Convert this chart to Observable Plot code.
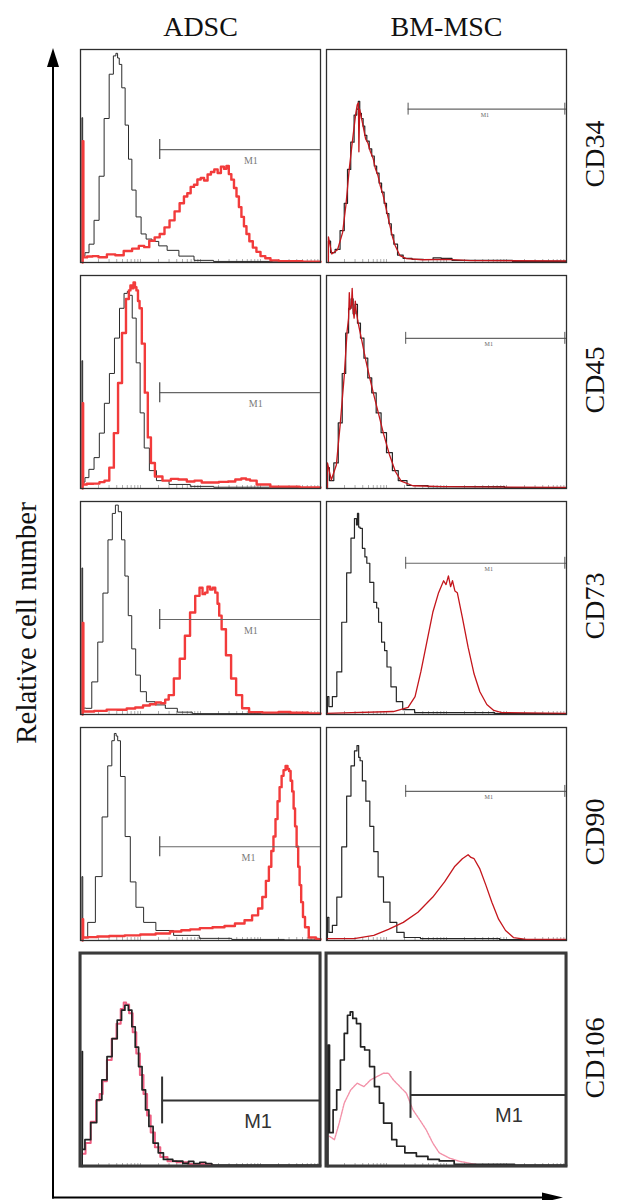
<!DOCTYPE html>
<html>
<head>
<meta charset="utf-8">
<script src="https://cdn.jsdelivr.net/npm/d3@7"></script>
<script src="https://cdn.jsdelivr.net/npm/@observablehq/plot@0.6"></script>
<style>
  html, body { margin: 0; padding: 0; background: #fff; }
  #chart svg { display: block; }
</style>
</head>
<body>
<div id="chart"></div>
<script>
// ---------- categories ----------
const columns = ["ADSC", "BM-MSC"];
const markers = ["CD34", "CD45", "CD73", "CD90", "CD106"];
const yAxisLabel = "Relative cell number";
const gateLabel = "M1";

// ---------- histogram series: [channel position 0-100, relative count 0-100] ----------
const adscCD34Control = [[0.6,0],[0.6,68],[1.2,3],[2.5,4.6],[4.6,8.6],[6.7,19.8],[8.8,40.5],[10.9,67.6],[13,88.4],[14.4,97],[15.1,98.2],[15.8,96],[16.5,93],[17.9,82],[19.3,64.5],[20.7,48.5],[22.1,34],[24.2,21.4],[26.3,13.4],[28.4,11],[31.2,9.9],[34,7.8],[38.2,5.7],[43.8,3],[50.8,1],[60,0.5],[100,0.3]];
const adscCD34Stained = [[0.9,0],[0.9,57],[1.5,2.4],[4,2.8],[6,3],[9,2.5],[13,3.8],[16,3.4],[20,5.4],[23,6.5],[25.6,7.8],[27.5,7.2],[29.8,10.2],[32,11.8],[34,13.4],[36,16.5],[38.2,19.8],[40.2,24],[42.4,27.8],[43.8,31],[45.2,32.5],[46.6,35.5],[48,36.5],[49.4,39],[50.8,39.7],[52.2,38.5],[53.7,41.3],[55,42.5],[56.5,43.7],[57.8,42],[59.2,45],[60.3,44],[61.3,45.3],[62.3,41.5],[63.4,38.9],[64.5,35],[65.5,31],[66.5,26],[67.6,21.4],[68.6,17],[69.7,13.4],[71,10],[72.6,7],[74,5],[76,3],[78,2],[80.3,1],[85,0.6],[100,0.4]];

const adscCD45Control = [[0.6,0],[0.6,60],[1.2,3],[2.5,5.1],[4.5,9],[6.8,14.5],[8.9,26],[11,40],[13.1,54],[15.2,70.6],[17.3,84.6],[19,91.6],[20,92.5],[20.7,90.7],[22.4,80],[24,59],[25.7,35.5],[27.4,19],[30,8.4],[33.3,3.7],[40.5,1.9],[51,1],[60,0.6],[100,0.4]];
const adscCD45Stained = [[0.9,0],[0.9,40],[1.3,1.9],[4,2.2],[6.8,2.3],[9,3],[11,3.7],[13,9.8],[14.8,26],[16.5,49.5],[18.1,73],[19.8,89],[20.5,93],[21.1,95.3],[21.8,94],[22.4,96.7],[23,94.5],[23.6,93],[24.3,88],[24.9,84.6],[26.2,68],[27.4,45],[28.7,24],[30,12],[32,5.6],[36.3,3.7],[39,4.5],[42.6,4.2],[46,3.3],[49,3.7],[52,2.8],[55.3,2.8],[60,3.1],[63,3.3],[66,4.2],[68,4.7],[70,4.2],[71.3,3.7],[75.5,1.9],[82.7,0.9],[100,0.5]];

const adscCD73Control = [[0.6,0],[0.6,68.8],[1.2,3],[3.3,2.9],[6.1,15.3],[8.3,34],[10.4,57],[12.5,82],[14,94.4],[15.1,98.3],[16.4,95.2],[17.8,82],[19.2,65],[20.6,46.4],[22.1,30.8],[23.9,18.5],[26,10.7],[28.9,6],[33.2,4.5],[37.5,2.9],[43.2,1.1],[50,0.4],[100,0.3]];
const adscCD73Stained = [[0.9,0],[0.9,43],[1.5,1.4],[2.6,1.4],[8.8,1.7],[13,2.3],[17.5,2.2],[21,2.8],[24.6,3.3],[27.5,4.2],[30.3,4.8],[32.5,5.6],[34.6,5.3],[36,7],[37.5,9.1],[40.3,16.9],[42.4,26.2],[44.6,37],[46.7,47.9],[48.9,55.7],[50.3,59.5],[51.4,56.5],[52.4,57.2],[53.4,60],[54.6,58.7],[55.6,59.5],[56.7,57.2],[57.5,52],[58.1,46.4],[59.5,40],[61.7,27.8],[63.8,16.9],[65.9,9.1],[68.8,2.9],[71.7,1.1],[80,0.9],[85,1.2],[90,0.8],[100,0.5]];

const adscCD90Control = [[0.6,0],[0.6,30],[1.3,1.4],[4.7,8.5],[7.7,30],[10.3,58],[12.4,82],[13.7,93.8],[14.5,97.2],[15.2,96],[15.8,93.8],[17.5,77],[19.7,48.8],[21.8,27.5],[24.4,15.6],[28.2,8.5],[34.6,4.7],[43,2.4],[56,1],[70,0.5],[100,0.3]];
const adscCD90Stained = [[0.9,0],[0.9,10],[1.3,1.4],[5,1.6],[9,1.9],[15,2.1],[21.8,2.4],[28,2.8],[34.6,3.3],[40,4.2],[44,4.8],[47.4,5.2],[52,5.8],[58,6.2],[62,6.8],[66.7,8],[70,9.5],[73,11.8],[75,15],[76.5,20.4],[78,28],[79,34.6],[80,42],[80.8,48.8],[81.7,57],[82.5,65.4],[83.4,72],[84.2,77.3],[85,80],[85.9,82],[86.6,80.5],[87.2,79.6],[87.9,75],[88.5,70],[89.1,62],[89.7,53.6],[90.4,44],[91,34.6],[91.6,26],[92.3,18],[93.1,11],[94,6.2],[96.2,1.4],[100,0.6]];

const adscCD106Control = [[0.7,0],[0.7,54],[0.9,8],[2.8,12.6],[5.7,20.6],[7.8,31.3],[10,40.7],[12.1,51.6],[14.2,60],[16.4,68.7],[17.8,73.4],[19.2,75.7],[20.7,73.4],[22.1,65.6],[23.5,56],[24.9,46.9],[26.4,36],[27.8,26.6],[29.2,18.8],[31.3,11],[33.5,6.4],[35.6,3.3],[41.3,2.5],[44,1.5],[46,2.4],[48.4,1.4],[51,2],[53.4,1.4],[56,0.6],[100,0.6]];
const adscCD106Stained = [[1.2,6],[3,11],[5.5,21],[7.5,31],[8.5,34],[10,40],[12,50],[14,60],[16,67],[17.5,74],[18.5,77],[19.5,76],[21,72],[22.5,63],[24,53],[25.5,43],[27,34],[28.5,24],[30,16],[32,9],[34.5,4.5],[38,2.5],[42,2],[48,1.2],[55,0.8]];

const bmCD34Control = [[0.8,0],[0.8,10],[2.6,4.6],[4.6,6.2],[6.7,15],[8.1,27.8],[9.4,43.7],[10.8,56.5],[12.2,69.2],[13,72],[13.5,75.6],[14.2,70],[14.9,67.6],[15.6,64],[16.3,59.7],[17.3,57],[18.3,53.3],[19.4,50],[20.4,45.3],[21.4,42],[22.4,37.3],[23.5,33],[24.5,27.8],[25.5,23],[26.5,18.2],[27.5,13],[28.6,8.6],[30.6,3.5],[33.3,1.9],[38,1.5],[42.8,1.4],[46,2.2],[49.6,1.9],[55,1],[100,0.5]];
const bmCD34Stained = [[0.8,0],[0.8,12],[2.2,4],[4.6,6],[6.7,14],[8.1,27],[9.4,43],[10.8,57],[12.2,70],[12.8,74],[13.3,75],[13.5,52],[13.8,72],[14.9,66],[16.3,58],[17.3,56],[18.3,52],[19.4,49],[20.4,44],[21.4,41],[22.4,36],[23.5,32],[24.5,27],[25.5,22],[26.5,17],[27.5,12],[28.6,8],[30.6,3.2],[33.3,1.8],[40,1.3],[50,1.5],[60,0.9],[100,0.7]];

const bmCD45Control = [[0.4,0],[0.4,9.8],[2,3.7],[4.1,12],[5.7,30.8],[7.4,54],[8.6,73],[9.8,84.6],[10.7,89],[11.5,82],[12.3,86.4],[13.5,77.6],[14.8,70.6],[16.4,61.2],[18,51.9],[19.7,44.9],[21.7,35.5],[23.8,26.2],[26.2,16.8],[28.7,8.4],[31.1,3.7],[36,1.4],[48.4,0.9],[100,0.4]];
const bmCD45Stained = [[0.4,0],[0.4,12],[2,4],[4.1,11],[5.7,30],[7.4,53],[8.6,74],[9.2,80],[9.5,92],[9.8,84],[10.4,86],[10.7,94],[11,85],[11.5,80],[12,88],[12.3,84],[13,79],[13.5,76],[14.8,69],[16.4,60],[18,52],[19.7,44],[21.7,35],[23.8,25.5],[26.2,16],[28.7,8],[31.1,3.5],[36,1.3],[48.4,0.9],[100,0.5]];

const bmCD73Control = [[0.4,0],[0.4,8.4],[1.6,3.7],[3.3,8.4],[5.3,20],[7.4,43.3],[9.4,66.5],[11,82.8],[12.3,92],[12.7,89],[13.1,94.4],[13.7,88],[14.3,87.4],[15.6,78],[16.4,74],[17.2,71],[18.9,62],[20.5,52.6],[21.3,50],[22.1,43.3],[23.8,34],[24.6,30],[25.8,22.3],[27.9,13],[30.3,6],[33.2,2.3],[40.2,0.9],[100,0.4]];
const bmCD73Stained = [[0,0.5],[27.9,1.4],[34,3.3],[36.9,8.4],[39.3,20],[41.8,34],[44.3,48],[46.7,57.2],[48.8,62.8],[49.8,61],[50.8,65.1],[51.7,60],[52.5,62.8],[53.5,58],[54.5,57.2],[56.6,45.6],[59,31.6],[61.5,19],[63.9,10.7],[66.8,4.7],[69.7,1.9],[73,0.9],[100,0.5]];

const bmCD90Control = [[0.4,0],[0.4,10.9],[1.6,3.8],[3.3,7.1],[5.3,20.4],[7.4,44],[9.4,67.8],[11,82],[12.3,89],[13.1,91.5],[13.7,86],[14.3,84.4],[15.6,74.9],[17.2,65.4],[18.9,53.6],[20.5,41.7],[22.5,29.9],[25,18],[27.9,8.5],[30.7,3.8],[34,1.4],[44.3,0.9],[100,0.4]];
const bmCD90Stained = [[0,0.9],[11.5,0.9],[19.7,2.4],[25.8,5.2],[32,8.5],[38.1,13.3],[44.3,20.4],[49.2,27.5],[53.3,34.6],[56.6,38.4],[59,40.3],[60.2,39],[61.5,38.4],[63.9,33.6],[66.4,26],[68.9,18],[71.7,10],[74.6,4.7],[77.9,1.4],[83.2,0.5],[100,0.5]];

const bmCD106Control = [[0.6,0],[0.6,57],[1.9,15.9],[3.6,26.6],[4.9,36],[6.7,50],[8.1,62.5],[9.4,71],[10.4,72.6],[11.5,69.5],[13.5,67.1],[14.9,56.2],[16.9,54.7],[19,46.9],[21,37.5],[23.1,29.8],[24.5,20.4],[26.5,20.4],[27.9,12.6],[30.6,9.5],[34.7,6.4],[40.2,4.8],[44.3,3.3],[49.7,2.6],[56.7,1],[100,0.6]];
const bmCD106Stained = [[1.2,14.2],[3.3,12.6],[5.3,20.4],[7.4,29.8],[10.1,36],[12.8,39.1],[15.6,37.5],[18.3,40.6],[21,42.2],[23.8,43.8],[25.8,43.8],[27.9,40.6],[30.6,37.5],[33.3,34.4],[36,26.6],[38.8,22],[41.5,17.3],[44.3,11],[47,6.4],[51.1,4],[55.2,2.5],[59.3,1.6],[63,0.8]];

// ---------- M1 gates (per marker) ----------
const adscGateStart = [33, 33, 33, 33, 34];
const adscGateY = [53, 45, 44.6, 44, 31];
const adscLabelX = [71, 73, 71, 70, 74];
const bmGateStart = [34, 33, 33, 33, 35];
const bmGateY = [72, 70.5, 71, 70, 33.6];
const bmLabelX = [66, 67.6, 67.6, 67.6, 76];

// log-decade tick positions along the channel axis
const decadeStarts = [0, 25, 50, 75];
const minorOffsets = [0, 7.5, 11.9, 15.1, 17.5, 19.5, 21.1, 22.6, 23.9];

// ---------- assemble tables ----------
const curves = [
  ["ADSC","CD34","adscControl",adscCD34Control], ["ADSC","CD34","adscStained",adscCD34Stained],
  ["ADSC","CD45","adscControl",adscCD45Control], ["ADSC","CD45","adscStained",adscCD45Stained],
  ["ADSC","CD73","adscControl",adscCD73Control], ["ADSC","CD73","adscStained",adscCD73Stained],
  ["ADSC","CD90","adscControl",adscCD90Control], ["ADSC","CD90","adscStained",adscCD90Stained],
  ["ADSC","CD106","c106Control",adscCD106Control], ["ADSC","CD106","adsc106Stained",adscCD106Stained],
  ["BM-MSC","CD34","bmControl",bmCD34Control], ["BM-MSC","CD34","bmStained",bmCD34Stained],
  ["BM-MSC","CD45","bmControl",bmCD45Control], ["BM-MSC","CD45","bmStained",bmCD45Stained],
  ["BM-MSC","CD73","bmControl",bmCD73Control], ["BM-MSC","CD73","bmStained",bmCD73Stained],
  ["BM-MSC","CD90","bmControl",bmCD90Control], ["BM-MSC","CD90","bmStained",bmCD90Stained],
  ["BM-MSC","CD106","c106Control",bmCD106Control], ["BM-MSC","CD106","bm106Stained",bmCD106Stained]
];
const points = curves.flatMap(([col, marker, kind, pts]) =>
  pts.map(([x, y]) => ({col, marker, kind, id: col + marker + kind, x, y})));

const gates = markers.flatMap((m, i) => [
  {col: "ADSC", marker: m, start: adscGateStart[i], y: adscGateY[i], labelX: adscLabelX[i], label: gateLabel},
  {col: "BM-MSC", marker: m, start: bmGateStart[i], y: bmGateY[i], labelX: bmLabelX[i], label: gateLabel}
]);
const axisTicks = decadeStarts.flatMap(d => minorOffsets.map(o => d + o)).concat([100]);

// ---------- styles ----------
const lineStyles = {
  adsc106Stained: {stroke: "#ee5f82", strokeWidth: 2, curve: "step"},
  bm106Stained: {stroke: "#f391a8", strokeWidth: 1.4, strokeDasharray: "2,1", curve: "linear"},
  adscControl: {stroke: "#2b2b2b", strokeWidth: 1, curve: "step"},
  bmControl: {stroke: "#262626", strokeWidth: 1.2, curve: "step"},
  c106Control: {stroke: "#222", strokeWidth: 1.7, curve: "step"},
  adscStained: {stroke: "#f23b3b", strokeWidth: 2.4, curve: "step"},
  bmStained: {stroke: "#c4161c", strokeWidth: 1.3, curve: "linear"}
};
const serif = "'Liberation Serif', 'Times New Roman', serif";
const isBig = d => d.marker === "CD106";

const W = 619, H = 1200, mTop = 48, mBottom = 33, mLeft = 79, mRight = 53;

const chart = Plot.plot({
  width: W, height: H,
  marginTop: mTop, marginBottom: mBottom, marginLeft: mLeft, marginRight: mRight,
  style: {fontFamily: serif, background: "#fff", overflow: "visible"},
  fx: {domain: columns, paddingInner: 0.025, axis: null},
  fy: {domain: markers, paddingInner: 0.0575, axis: null},
  x: {domain: [0, 100], axis: null},
  y: {domain: [0, 100], axis: null},
  marks: [
    Plot.ruleX(axisTicks, {x: d => d, y1: 0, y2: 1.4, stroke: "#777", strokeWidth: 0.6}),
    ...Object.keys(lineStyles).map(k =>
      Plot.line(points.filter(p => p.kind === k), {x: "x", y: "y", z: "id", fx: "col", fy: "marker", ...lineStyles[k]})),
    Plot.frame({stroke: "#2e2e2e", strokeWidth: 1.3}),
    Plot.rect(gates.filter(isBig), {fx: "col", fy: "marker", x1: 0, x2: 100, y1: 0, y2: 100, fill: "none", stroke: "#3a3a3a", strokeWidth: 3}),
    // gates rows 1-4
    Plot.ruleY(gates.filter(d => !isBig(d)), {fx: "col", fy: "marker", y: "y", x1: "start", x2: 100, stroke: "#666", strokeWidth: 1.1}),
    Plot.ruleX(gates.filter(d => !isBig(d) && d.col === "ADSC"), {fx: "col", fy: "marker", x: "start", y1: d => d.y - 4.7, y2: d => d.y + 4.7, stroke: "#555", strokeWidth: 1.3}),
    Plot.ruleX(gates.filter(d => !isBig(d) && d.col !== "ADSC"), {fx: "col", fy: "marker", x: "start", y1: d => d.y - 2.8, y2: d => d.y + 2.8, stroke: "#555", strokeWidth: 1}),
    Plot.ruleX(gates.filter(d => !isBig(d) && d.col !== "ADSC"), {fx: "col", fy: "marker", x: 99.3, y1: d => d.y - 2.8, y2: d => d.y + 2.8, stroke: "#555", strokeWidth: 1}),
    Plot.text(gates.filter(d => !isBig(d) && d.col === "ADSC"), {fx: "col", fy: "marker", x: "labelX", y: "y", text: "label", dy: 11, fontSize: 10, fill: "#7a7a7a"}),
    Plot.text(gates.filter(d => !isBig(d) && d.col !== "ADSC"), {fx: "col", fy: "marker", x: "labelX", y: "y", text: "label", dy: 6, fontSize: 6, fill: "#666"}),
    // gates row 5
    Plot.ruleY(gates.filter(isBig), {fx: "col", fy: "marker", y: "y", x1: "start", x2: 100, stroke: "#333", strokeWidth: 2}),
    Plot.ruleX(gates.filter(isBig), {fx: "col", fy: "marker", x: "start", y1: d => d.y - 11, y2: d => d.y + 11, stroke: "#333", strokeWidth: 2}),
    Plot.text(gates.filter(isBig), {fx: "col", fy: "marker", x: "labelX", y: "y", text: "label", dy: 21, fontSize: 20, fill: "#333", fontFamily: "'Liberation Sans', Arial, sans-serif"}),
    // column titles
    Plot.text(columns.map(c => ({col: c, marker: markers[0]})), {fx: "col", fy: "marker", text: "col", frameAnchor: "top", textAnchor: "middle", lineAnchor: "bottom", dy: -14, fontSize: 28, fill: "#111"}),
    // marker labels at right
    Plot.text(markers.map(m => ({col: columns[1], marker: m})), {fx: "col", fy: "marker", text: "marker", frameAnchor: "right", textAnchor: "middle", lineAnchor: "middle", rotate: -90, dx: 29, dy: -2, fontSize: 28, fill: "#111"}),
    // y-axis title
    Plot.text([{col: columns[0], marker: "CD73", label: yAxisLabel}], {fx: "col", fy: "marker", text: "label", frameAnchor: "left", textAnchor: "middle", lineAnchor: "middle", rotate: -90, dx: -54, dy: 15, fontSize: 29, fill: "#111"})
  ]
});

// axis arrows (decoration)
const svg = d3.select(chart);
const ax = mLeft - 26, ay = H - 2.5;
svg.append("line").attr("x1", ax).attr("y1", ay + 1).attr("x2", ax).attr("y2", mTop + 14)
  .attr("stroke", "#000").attr("stroke-width", 2);
svg.append("path").attr("d", `M${ax},${mTop}L${ax - 6},${mTop + 19}L${ax + 6},${mTop + 19}Z`).attr("fill", "#000");
const tipX = W - mRight - 3;
svg.append("line").attr("x1", ax - 1).attr("y1", ay).attr("x2", tipX - 16).attr("y2", ay)
  .attr("stroke", "#000").attr("stroke-width", 2);
svg.append("path").attr("d", `M${tipX},${ay}L${tipX - 21},${ay - 5}L${tipX - 21},${ay + 5}Z`).attr("fill", "#000");

document.getElementById("chart").append(chart);
</script>
</body>
</html>
